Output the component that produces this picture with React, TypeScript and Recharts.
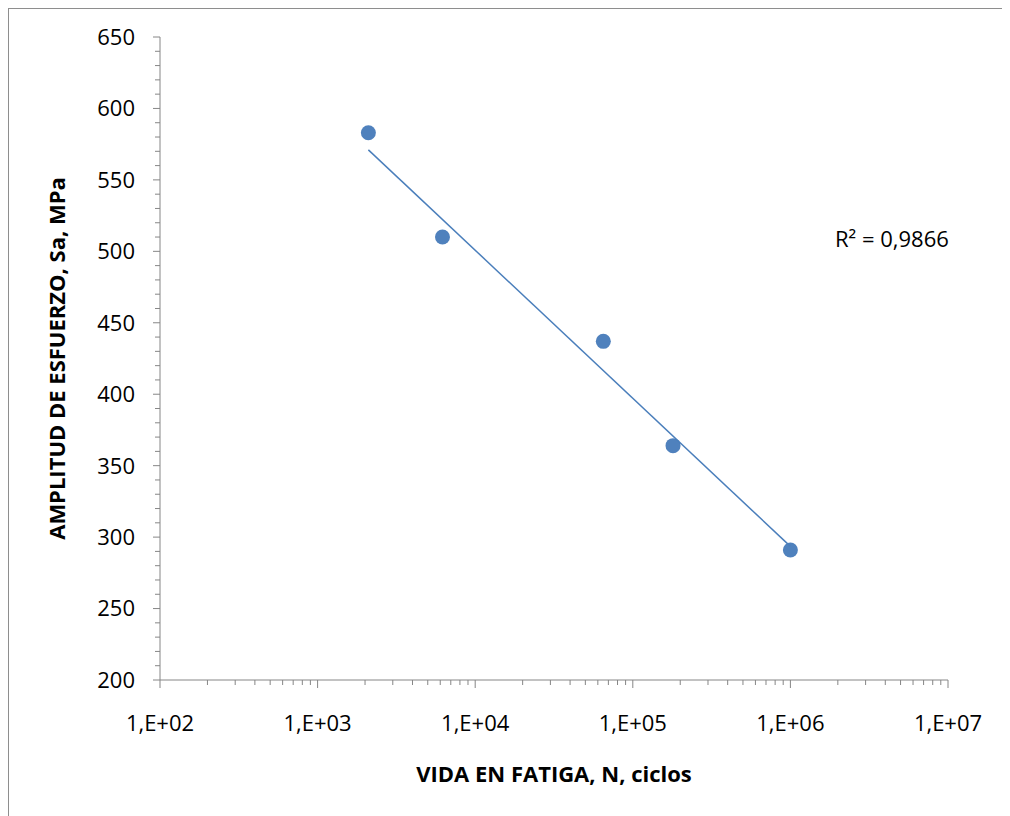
import React from "react";
import {
  ScatterChart,
  Scatter,
  XAxis,
  YAxis,
  Label,
} from "recharts";

// fatigue test points (cycles, stress amplitude MPa)
const cycles = [2100, 6200, 65000, 180000, 1000000];
const stress = [583, 510, 437, 364, 291];

// trendline ends as drawn in the source (log fit)
const trendCycles = [2100, 1000000];
const trendStress = [571, 293.5];
const rSquaredText = "R² = 0,9866";

const xMajorTicks = [100, 1000, 10000, 100000, 1000000, 10000000];
const xTickLabels = ["1,E+02", "1,E+03", "1,E+04", "1,E+05", "1,E+06", "1,E+07"];
const yTicks = [200, 210, 220, 230, 240, 250, 260, 270, 280, 290, 300, 310, 320, 330, 340, 350, 360, 370, 380, 390, 400, 410, 420, 430, 440, 450, 460, 470, 480, 490, 500, 510, 520, 530, 540, 550, 560, 570, 580, 590, 600, 610, 620, 630, 640, 650];

const points = cycles.map((n, i) => ({ n, s: stress[i] }));
const trend = trendCycles.map((n, i) => ({ n, s: trendStress[i] }));

// log axis: majors plus 2..9 minors in every decade
const xTicks: number[] = [];
xMajorTicks.forEach((m, i) => {
  xTicks.push(m);
  if (i < xMajorTicks.length - 1) {
    for (let k = 2; k <= 9; k++) xTicks.push(m * k);
  }
});

const axisColor = "#868686";
const font = "'Open Sans', sans-serif";

const XTick = ({ x, y, payload }: any) => {
  const idx = xMajorTicks.indexOf(payload.value);
  const major = idx >= 0;
  return (
    <g>
      <line x1={x} x2={x} y1={y} y2={y + (major ? 8 : 5)} stroke={axisColor} />
      {major && (
        <text x={x} y={y + 51} textAnchor="middle" fontFamily={font} fontSize={22} fill="#000">
          {xTickLabels[idx]}
        </text>
      )}
    </g>
  );
};

const YTick = ({ x, y, payload }: any) => {
  const major = payload.value % 50 === 0;
  return (
    <g>
      <line x1={x - (major ? 7 : 5)} x2={x} y1={y} y2={y} stroke={axisColor} />
      {major && (
        <text x={x - 25} y={y} dy="0.36em" textAnchor="end" fontFamily={font} fontSize={22} fill="#000">
          {payload.value}
        </text>
      )}
    </g>
  );
};

const Dot = (props: any) => <circle cx={props.cx} cy={props.cy} r={7.5} fill="#4f81bd" />;

export default function App() {
  return (
    <div
      style={{
        position: "relative",
        width: 1001,
        height: 807,
        borderTop: "1px solid #8e8e8e",
        borderLeft: "1px solid #8e8e8e",
        background: "#fff",
      }}
    >
      <ScatterChart width={1001} height={807} margin={{ top: 28, right: 62, left: 10, bottom: 10 }}>
        <XAxis
          dataKey="n"
          type="number"
          scale="log"
          domain={[100, 10000000]}
          allowDataOverflow
          ticks={xTicks}
          interval={0}
          tickSize={0}
          tickMargin={0}
          tick={<XTick />}
          axisLine={{ stroke: axisColor }}
          height={126}
        >
          <Label
            content={({ viewBox }: any) => (
              <text
                x={viewBox.x + viewBox.width / 2}
                y={viewBox.y + 102}
                textAnchor="middle"
                fontFamily={font}
                fontWeight="bold"
                fontSize={22}
                fill="#000"
              >
                VIDA EN FATIGA, N, ciclos
              </text>
            )}
          />
        </XAxis>
        <YAxis
          dataKey="s"
          type="number"
          domain={[200, 650]}
          ticks={yTicks}
          interval={0}
          tickSize={0}
          tickMargin={0}
          tick={<YTick />}
          axisLine={{ stroke: axisColor }}
          width={141}
        >
          <Label
            content={({ viewBox }: any) => {
              const cx = 48.5;
              const cy = viewBox.y + viewBox.height / 2;
              return (
                <text
                  x={cx}
                  y={cy}
                  dy="0.36em"
                  transform={`rotate(-90 ${cx} ${cy})`}
                  textAnchor="middle"
                  fontFamily={font}
                  fontWeight="bold"
                  fontSize={22}
                  fill="#000"
                >
                  AMPLITUD DE ESFUERZO, Sa, MPa
                </text>
              );
            }}
          />
        </YAxis>
        <Scatter data={points} shape={<Dot />} isAnimationActive={false} />
        <Scatter
          data={trend}
          line={{ stroke: "#4a7ebb", strokeWidth: 1.5 }}
          lineType="joint"
          shape={() => <g />}
          isAnimationActive={false}
        />
        <text x={826} y={238} fontFamily={font} fontSize={22} fill="#000">
          {rSquaredText}
        </text>
      </ScatterChart>
    </div>
  );
}
